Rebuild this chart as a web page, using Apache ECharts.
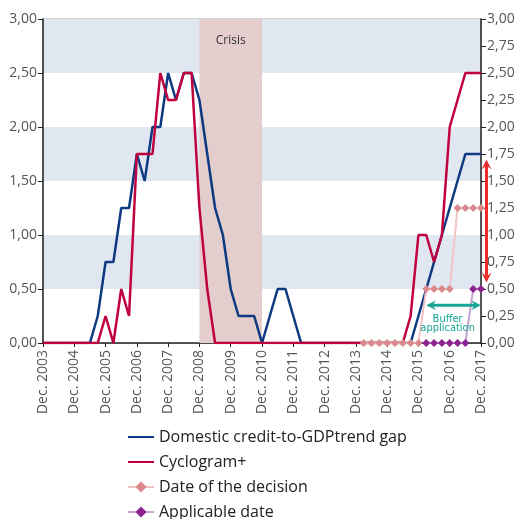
<!DOCTYPE html>
<html>
<head>
<meta charset="utf-8">
<script src="https://cdn.jsdelivr.net/npm/echarts@6/dist/echarts.min.js"></script>
<style>
  html, body { margin: 0; padding: 0; background: #fff; }
  #chart { width: 518px; height: 519px; }
</style>
</head>
<body>
<div id="chart"></div>
<script>
  // quarterly points, Dec. 2003 .. Dec. 2017
  const months = ['Dec.', 'Mar.', 'Jun.', 'Sep.'];
  const categories = [];
  for (let i = 0; i <= 56; i++) {
    const year = 2003 + Math.ceil(i / 4);
    categories.push(months[i % 4] + ' ' + year);
  }

  const creditGap = [
    0, 0, 0, 0, 0, 0, 0, 0.25, 0.75, 0.75, 1.25, 1.25, 1.75, 1.5, 2, 2, 2.5, 2.25, 2.5, 2.5,
    2.25, 1.75, 1.25, 1, 0.5, 0.25, 0.25, 0.25, 0, 0.25, 0.5, 0.5, 0.25, 0, 0, 0, 0, 0, 0, 0,
    0, 0, 0, 0, 0, 0, 0, 0, 0.25, 0.5, 0.75, 1, 1.25, 1.5, 1.75, 1.75, 1.75
  ];
  const cyclogram = [
    0, 0, 0, 0, 0, 0, 0, 0, 0.25, 0, 0.5, 0.25, 1.75, 1.75, 1.75, 2.5, 2.25, 2.25, 2.5, 2.5,
    1.25, 0.5, 0, 0, 0, 0, 0, 0, 0, 0, 0, 0, 0, 0, 0, 0, 0, 0, 0, 0,
    0, 0, 0, 0, 0, 0, 0, 0.25, 1, 1, 0.75, 1, 2, 2.25, 2.5, 2.5, 2.5
  ];
  const decisionDate = [
    null, null, null, null, null, null, null, null, null, null, null, null, null, null, null, null, null, null, null, null,
    null, null, null, null, null, null, null, null, null, null, null, null, null, null, null, null, null, null, null, null,
    null, 0, 0, 0, 0, 0, 0, 0, 0, 0.5, 0.5, 0.5, 0.5, 1.25, 1.25, 1.25, 1.25
  ];
  const applicableDate = [
    null, null, null, null, null, null, null, null, null, null, null, null, null, null, null, null, null, null, null, null,
    null, null, null, null, null, null, null, null, null, null, null, null, null, null, null, null, null, null, null, null,
    null, null, null, null, null, null, null, null, null, 0, 0, 0, 0, 0, 0, 0.5, 0.5
  ];
  const crisis = ['Dec. 2008', 'Dec. 2010'];

  const FONT = 'Open Sans';
  const fmt = (v) => v.toFixed(2).replace('.', ',');
  const noSymbol = { color: 'rgba(0,0,0,0)', opacity: 0 };

  const chart = echarts.init(document.getElementById('chart'));
  const option = {
    animation: false,
    textStyle: { fontFamily: FONT },
    grid: {
      left: 43,
      right: 37,
      top: 19,
      bottom: 176,
      show: true,
      borderColor: '#c6c6c6',
      borderWidth: 1.5
    },
    legend: {
      orient: 'vertical',
      left: 122,
      top: 424,
      height: 95,
      itemWidth: 26,
      itemHeight: 14,
      itemGap: 9,
      data: [
        { name: 'Domestic credit-to-GDPtrend gap', itemStyle: noSymbol },
        { name: 'Cyclogram+', itemStyle: noSymbol },
        'Date of the decision',
        'Applicable date'
      ],
      textStyle: { fontFamily: FONT, fontSize: 16, color: '#222' }
    },
    xAxis: {
      type: 'category',
      data: categories,
      boundaryGap: false,
      axisLine: { lineStyle: { color: '#222', width: 1.5 } },
      axisTick: { interval: 3, length: 4, lineStyle: { color: '#222' } },
      axisLabel: {
        interval: 3,
        rotate: 90,
        margin: 7,
        fontSize: 14,
        color: '#555',
        fontFamily: FONT
      },
      splitLine: { show: false }
    },
    yAxis: [
      {
        type: 'value',
        min: 0,
        max: 3,
        interval: 0.5,
        axisLine: { show: true, lineStyle: { color: '#222', width: 1.5 } },
        axisTick: { show: true, length: 5, lineStyle: { color: '#222' } },
        axisLabel: { formatter: fmt, fontSize: 14, color: '#555', margin: 6, fontFamily: FONT },
        splitLine: { show: false },
        splitArea: { show: true, areaStyle: { color: ['#ffffff', '#e1e7f1'] } }
      },
      {
        type: 'value',
        min: 0,
        max: 3,
        interval: 0.25,
        position: 'right',
        axisLine: { show: true, lineStyle: { color: '#222', width: 1.5 } },
        axisTick: { show: true, length: 5, lineStyle: { color: '#222' } },
        axisLabel: { formatter: fmt, fontSize: 14, color: '#555', margin: 6, fontFamily: FONT },
        splitLine: { show: false }
      }
    ],
    series: [
      {
        name: 'crisis',
        type: 'line',
        data: [],
        z: 1,
        markArea: {
          silent: true,
          itemStyle: { color: '#e3cdcd' },
          label: {
            show: true,
            position: 'insideTop',
            distance: 16,
            color: '#333',
            fontSize: 12,
            fontFamily: FONT
          },
          data: [[{ name: 'Crisis', xAxis: crisis[0] }, { xAxis: crisis[1] }]]
        }
      },
      {
        name: 'Domestic credit-to-GDPtrend gap',
        type: 'line',
        data: creditGap,
        z: 3,
        symbol: 'none',
        lineStyle: { color: '#0d3a80', width: 2.5 },
        itemStyle: { color: '#0d3a80' }
      },
      {
        name: 'Cyclogram+',
        type: 'line',
        data: cyclogram,
        z: 4,
        symbol: 'none',
        lineStyle: { color: '#c0003f', width: 2.5 },
        itemStyle: { color: '#c0003f' }
      },
      {
        name: 'Date of the decision',
        type: 'line',
        data: decisionDate,
        z: 5,
        symbol: 'diamond',
        symbolSize: 8,
        showAllSymbol: true,
        lineStyle: { color: '#f1c3c4', width: 2 },
        itemStyle: { color: '#db898c' }
      },
      {
        name: 'Applicable date',
        type: 'line',
        data: applicableDate,
        z: 6,
        symbol: 'diamond',
        symbolSize: 8,
        showAllSymbol: true,
        lineStyle: { color: '#c9a3cf', width: 2 },
        itemStyle: { color: '#8c2390' }
      }
    ]
  };
  chart.setOption(option);

  // annotations placed from axis values
  const px = (i, v) => chart.convertToPixel({ xAxisIndex: 0, yAxisIndex: 0 }, [i, v]);
  const last = px(56, 0);
  const redTop = px(56, 1.7);
  const redBot = px(56, 0.56);
  const tealL = px(48.55, 0.35);
  const tealR = px(55.75, 0.35);
  const rx = last[0] + 5.5;

  function arrowHead(x, y, dx, dy, color) {
    // dx,dy unit direction of the tip
    const w = 5, l = 10;
    const nx = -dy, ny = dx;
    return {
      type: 'polygon',
      z: 100,
      shape: {
        points: [
          [x, y],
          [x - dx * l + nx * w, y - dy * l + ny * w],
          [x - dx * l * 0.6, y - dy * l * 0.6],
          [x - dx * l - nx * w, y - dy * l - ny * w]
        ]
      },
      style: { fill: color }
    };
  }

  const red = '#ee2b2b';
  const teal = '#15a595';
  chart.setOption({
    graphic: [
      {
        type: 'line',
        z: 100,
        shape: { x1: rx, y1: redTop[1] + 6, x2: rx, y2: redBot[1] - 6 },
        style: { stroke: red, lineWidth: 3 }
      },
      arrowHead(rx, redTop[1], 0, -1, red),
      arrowHead(rx, redBot[1], 0, 1, red),
      {
        type: 'line',
        z: 100,
        shape: { x1: tealL[0] + 6, y1: tealL[1], x2: tealR[0] - 6, y2: tealR[1] },
        style: { stroke: teal, lineWidth: 3 }
      },
      arrowHead(tealL[0], tealL[1], -1, 0, teal),
      arrowHead(tealR[0], tealR[1], 1, 0, teal),
      {
        type: 'text',
        z: 100,
        x: (tealL[0] + tealR[0]) / 2 - 6,
        y: tealL[1] + 9,
        style: {
          text: 'Buffer\napplication',
          fill: teal,
          font: '11px "Liberation Sans Narrow", "DejaVu Sans Condensed", sans-serif',
          align: 'center',
          lineHeight: 9
        }
      }
    ]
  });
</script>
</body>
</html>
